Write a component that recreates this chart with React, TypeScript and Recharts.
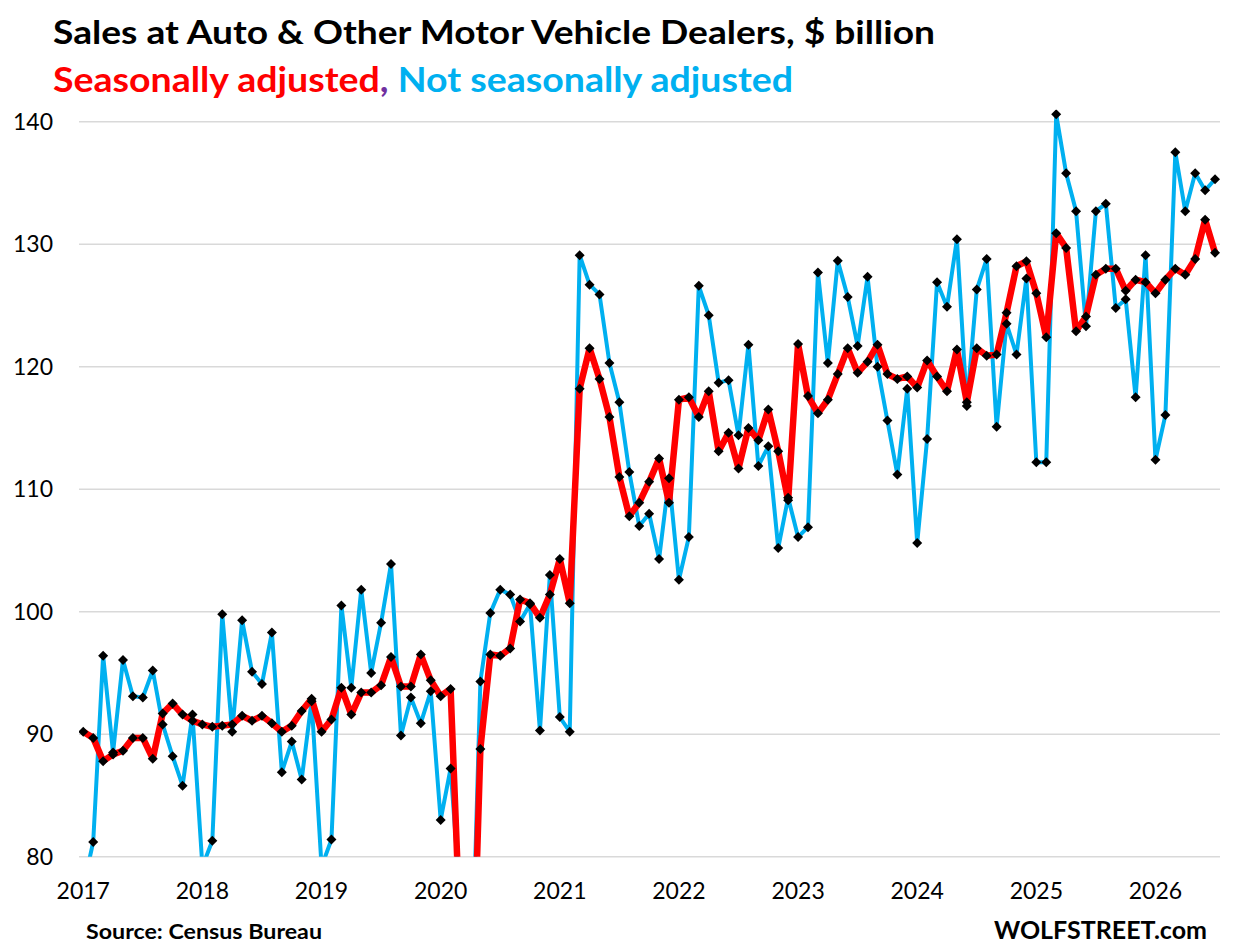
import React from 'react';
import { LineChart, Line, XAxis, YAxis, ReferenceLine } from 'recharts';

// Monthly values, $ billion, starting January 2017
const SEASONALLY_ADJUSTED: number[] = [
  90.2, 89.7, 87.8, 88.35, 88.65, 89.7, 89.7, 88.0, 91.7, 92.5, 91.6, 91.1,
  90.8, 90.6, 90.7, 90.8, 91.5, 91.1, 91.5, 90.9, 90.2, 90.7, 91.9, 92.9,
  90.2, 91.2, 93.8, 91.6, 93.4, 93.4, 94.0, 96.3, 93.9, 93.9, 96.5, 94.4,
  93.1, 93.7, 72.9, 62.0, 88.8, 96.5, 96.4, 97.0, 101.0, 100.7, 99.5, 101.4,
  104.3, 100.7, 118.2, 121.5, 119.0, 115.9, 111.0, 107.8, 108.9, 110.6, 112.5, 108.9,
  117.3, 117.5, 115.9, 118.0, 113.1, 114.6, 111.7, 115.0, 114.0, 116.5, 113.1, 109.1,
  121.85, 117.6, 116.2, 117.3, 119.4, 121.5, 119.5, 120.4, 121.8, 119.4, 119.0, 119.2,
  118.3, 120.5, 119.2, 118.0, 121.4, 117.1, 121.5, 120.9, 121.0, 124.4, 128.2, 128.6,
  126.0, 122.4, 130.9, 129.7, 122.9, 124.1, 127.5, 128.0, 128.0, 126.2, 127.1, 126.9,
  126.0, 127.1, 128.0, 127.5, 128.8, 132.0, 129.3,
];

const NOT_SEASONALLY_ADJUSTED: number[] = [
  77.5, 81.2, 96.4, 88.5, 96.05, 93.1, 93.0, 95.2, 90.8, 88.2, 85.8, 91.6,
  79.2, 81.3, 99.8, 90.2, 99.3, 95.1, 94.1, 98.3, 86.9, 89.4, 86.3, 92.7,
  79.2, 81.4, 100.5, 93.8, 101.8, 95.0, 99.1, 103.9, 89.9, 93.0, 90.9, 93.5,
  83.0, 87.2, 76.0, 66.0, 94.3, 99.9, 101.8, 101.4, 99.2, 100.6, 90.3, 103.0,
  91.4, 90.2, 129.1, 126.7, 125.9, 120.3, 117.1, 111.4, 107.0, 108.0, 104.3, 110.9,
  102.6, 106.1, 126.6, 124.2, 118.7, 118.9, 114.4, 121.8, 111.9, 113.5, 105.2, 109.3,
  106.1, 106.9, 127.7, 120.3, 128.65, 125.7, 121.7, 127.35, 120.0, 115.6, 111.2, 118.2,
  105.6, 114.1, 126.9, 124.9, 130.4, 116.8, 126.3, 128.8, 115.1, 123.5, 121.0, 127.2,
  112.2, 112.2, 140.6, 135.8, 132.7, 123.3, 132.7, 133.3, 124.8, 125.5, 117.5, 129.1,
  112.4, 116.05, 137.5, 132.7, 135.8, 134.4, 135.3,
];

const YEAR_LABELS: string[] = ['2017', '2018', '2019', '2020', '2021', '2022', '2023', '2024', '2025', '2026'];
const Y_TICKS: number[] = [80, 90, 100, 110, 120, 130, 140];

const data = SEASONALLY_ADJUSTED.map((sa, i) => ({
  m: i,
  sa,
  nsa: NOT_SEASONALLY_ADJUSTED[i],
}));
const X_TICKS = YEAR_LABELS.map((_, k) => k * 12);

const FONT = 'Lato, "Noto Sans", sans-serif';

const renderDiamond = (p: any) => {
  const { cx, cy, index } = p;
  if (cx == null || cy == null || isNaN(cx) || isNaN(cy)) return <g key={`d-${index}`} />;
  const r = 5;
  return (
    <path
      key={`d-${index}`}
      d={`M${cx},${cy - r}L${cx + r},${cy}L${cx},${cy + r}L${cx - r},${cy}Z`}
      fill="#000000"
    />
  );
};

export default function App() {
  return (
    <div style={{ position: 'absolute', left: 0, top: 0, width: 1235, height: 952, background: '#fff' }}>
      <LineChart
        width={1235}
        height={952}
        data={data}
        margin={{ top: 109.45, right: 15, left: 0, bottom: 65.3 }}
      >
        <XAxis
          type="number"
          dataKey="m"
          domain={[-0.43, 114.5]}
          allowDataOverflow
          ticks={X_TICKS}
          interval={0}
          tickFormatter={(v: number) => YEAR_LABELS[Math.round(v / 12)]}
          axisLine={false}
          tickLine={false}
          tickSize={0}
          tickMargin={26}
          height={30}
          tick={{ fill: '#000', fontSize: 23, fontFamily: FONT }}
        />
        <YAxis
          type="number"
          domain={[80, 141]}
          allowDataOverflow
          ticks={Y_TICKS}
          interval={0}
          axisLine={false}
          tickLine={false}
          tickSize={0}
          tickMargin={26}
          width={79}
          tick={{ fill: '#000', fontSize: 23, fontFamily: FONT }}
        />
        {Y_TICKS.map((t) => (
          <ReferenceLine key={`g-${t}`} y={t} stroke="#D9D9D9" strokeWidth={1.5} />
        ))}
        <Line
          type="linear"
          dataKey="nsa"
          stroke="#00B0F0"
          strokeWidth={4}
          strokeLinejoin="round"
          dot={renderDiamond}
          activeDot={false}
          isAnimationActive={false}
        />
        <Line
          type="linear"
          dataKey="sa"
          stroke="#FF0000"
          strokeWidth={6.5}
          strokeLinejoin="round"
          dot={renderDiamond}
          activeDot={false}
          isAnimationActive={false}
        />
      </LineChart>
      <svg
        width={1235}
        height={952}
        style={{ position: 'absolute', left: 0, top: 0, pointerEvents: 'none' }}
      >
        <text x={53} y={44} fontFamily={FONT} fontWeight={700} fontSize={33} fill="#000" textLength={882} lengthAdjust="spacingAndGlyphs">
          Sales at Auto &amp; Other Motor Vehicle Dealers, $ billion
        </text>
        <text x={53} y={92} fontFamily={FONT} fontWeight={700} fontSize={34} textLength={740} lengthAdjust="spacingAndGlyphs">
          <tspan fill="#FF0000">Seasonally adjusted</tspan>
          <tspan fill="#7030A0">,</tspan>
          <tspan fill="#00B0F0"> Not seasonally adjusted</tspan>
        </text>
        <text x={86} y={939} fontFamily={FONT} fontWeight={700} fontSize={21} fill="#000" textLength={236} lengthAdjust="spacingAndGlyphs">
          Source: Census Bureau
        </text>
        <text x={1207} y={939} textAnchor="end" fontFamily={FONT} fontWeight={700} fontSize={25} fill="#000">
          WOLFSTREET.com
        </text>
      </svg>
    </div>
  );
}
